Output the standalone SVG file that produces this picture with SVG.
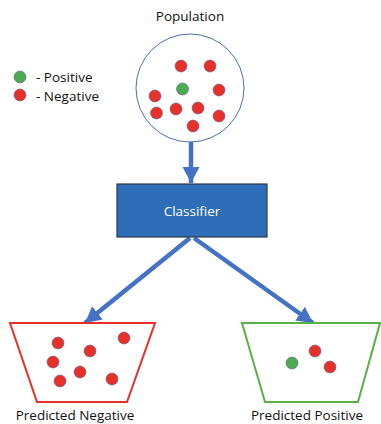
<svg xmlns="http://www.w3.org/2000/svg" width="381" height="424" viewBox="0 0 381 424">
  <style>
    .lbl { font-family: "Open Sans", "Liberation Sans", sans-serif; font-size: 13.5px; fill: #111; }
    .red { fill: #E8302A; stroke: #5A5F8A; stroke-width: 0.6; }
    .green { fill: #4CAA50; stroke: #5A5F8A; stroke-width: 0.6; }
    .conn { stroke: #4472C4; stroke-width: 4.5; fill: none; }
  </style>
  <defs>
    <marker id="head" markerUnits="userSpaceOnUse" markerWidth="18" markerHeight="18" viewBox="0 0 18 18" refX="16" refY="9" orient="auto">
      <path d="M0,0.5 L16,9 L0,17.5 Z" fill="#4472C4"/>
    </marker>
  </defs>
  <rect width="381" height="424" fill="#fff"/>

  <!-- legend -->
  <g id="legend">
    <circle class="green" cx="20" cy="77" r="6"/>
    <text class="lbl" x="36" y="82">- Positive</text>
    <circle class="red" cx="20" cy="95" r="6"/>
    <text class="lbl" x="36" y="100.5">- Negative</text>
  </g>

  <!-- connectors -->
  <g id="connectors">
    <line class="conn" x1="191" y1="142" x2="191" y2="183" marker-end="url(#head)"/>
    <line class="conn" x1="190" y1="238" x2="85" y2="323" marker-end="url(#head)"/>
    <line class="conn" x1="194" y1="238" x2="313" y2="323" marker-end="url(#head)"/>
  </g>

  <!-- population -->
  <g id="population">
    <text class="lbl" x="190" y="21" text-anchor="middle">Population</text>
    <circle cx="190" cy="88" r="54" fill="#fff" stroke="#4A6FB5" stroke-width="1"/>
    <circle class="red" cx="181" cy="66" r="6"/>
    <circle class="red" cx="210" cy="66" r="6"/>
    <circle class="green" cx="182.5" cy="89" r="6"/>
    <circle class="red" cx="219" cy="90" r="6"/>
    <circle class="red" cx="155" cy="96" r="6"/>
    <circle class="red" cx="156.5" cy="113" r="6"/>
    <circle class="red" cx="176" cy="109" r="6"/>
    <circle class="red" cx="198" cy="108" r="6"/>
    <circle class="red" cx="219" cy="116" r="6"/>
    <circle class="red" cx="193" cy="126" r="6"/>
  </g>

  <!-- classifier -->
  <g id="classifier">
    <rect x="117" y="184" width="150" height="53" fill="#2E6DB8" stroke="#2F3A4A" stroke-width="1.2"/>
    <text x="192" y="216" text-anchor="middle" font-family="Open Sans, Liberation Sans, sans-serif" font-size="13.5" fill="#fff">Classifier</text>
  </g>

  <!-- predicted negative -->
  <g id="predicted-negative">
    <path d="M10,323 L155,323 L127,402 L37,402 Z" fill="#fff" stroke="#E8302A" stroke-width="2"/>
    <circle class="red" cx="58" cy="343" r="6"/>
    <circle class="red" cx="124" cy="338" r="6"/>
    <circle class="red" cx="90" cy="351" r="6"/>
    <circle class="red" cx="53" cy="362" r="6"/>
    <circle class="red" cx="80" cy="372" r="6"/>
    <circle class="red" cx="60" cy="381" r="6"/>
    <circle class="red" cx="112" cy="379" r="6"/>
    <text class="lbl" x="75" y="420" text-anchor="middle">Predicted Negative</text>
  </g>

  <!-- predicted positive -->
  <g id="predicted-positive">
    <path d="M242,323 L380,323 L358,402 L265,402 Z" fill="#fff" stroke="#5AAF46" stroke-width="2"/>
    <circle class="green" cx="292" cy="363" r="6"/>
    <circle class="red" cx="315" cy="351" r="6"/>
    <circle class="red" cx="330" cy="367" r="6"/>
    <text class="lbl" x="307" y="420" text-anchor="middle">Predicted Positive</text>
  </g>
</svg>
